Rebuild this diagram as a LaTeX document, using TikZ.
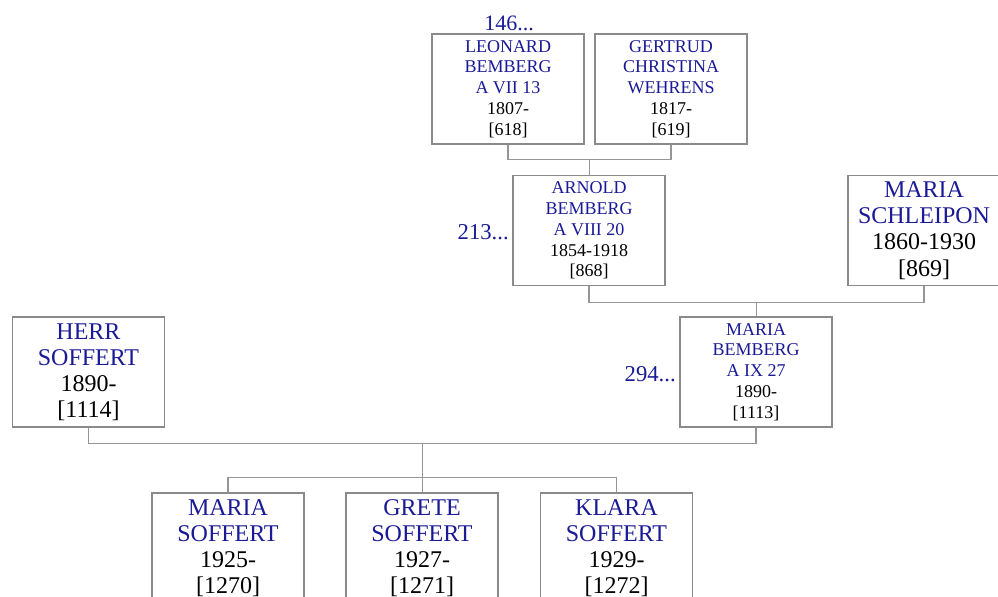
\documentclass[tikz,border=0pt]{standalone}
\usepackage{fontspec}
\setmainfont{Liberation Serif}
\usetikzlibrary{calc}
\definecolor{nameblue}{HTML}{1A1A96}
\definecolor{boxgray}{HTML}{8A8A8A}
\tikzset{
  person/.style={draw=boxgray, line width=0.9pt, rectangle, inner sep=0pt,
    minimum width=114pt, minimum height=82.5pt, align=center, fill=white},
  small/.style={person, font=\fontsize{13.5}{15.6}\selectfont},
  big/.style={person, font=\fontsize{18}{19.6}\selectfont},
  link/.style={draw=boxgray!90, line width=0.9pt},
  ref/.style={text=nameblue, inner sep=0pt}
}
\newcommand{\nm}[1]{\textcolor{nameblue}{#1}}
\begin{document}
\begin{tikzpicture}[x=0.75pt,y=-0.75pt]
\useasboundingbox (0,0) rectangle (998,596);
\clip (0,0) rectangle (998,596);
% generation 1
\node[small] (L) at (508,89) {\nm{LEONARD}\\\nm{BEMBERG}\\\nm{A VII 13}\\1807-\\{}[618]};
\node[small] (G) at (671,89) {\nm{GERTRUD}\\\nm{CHRISTINA}\\\nm{WEHRENS}\\1817-\\{}[619]};
\node[ref, font=\fontsize{16.5}{18}\selectfont, anchor=south] (r146) at (509,31) {146...};
% generation 2
\node[small] (A) at (589,230.5) {\nm{ARNOLD}\\\nm{BEMBERG}\\\nm{A VIII 20}\\1854-1918\\{}[868]};
\node[big] (S) at (924,230.5) {\nm{MARIA}\\\nm{SCHLEIPON}\\1860-1930\\{}[869]};
\node[ref, font=\fontsize{17}{18}\selectfont, anchor=east] (r213) at (509,232) {213...};
% generation 3
\node[small] (B) at (756,372) {\nm{MARIA}\\\nm{BEMBERG}\\\nm{A IX 27}\\1890-\\{}[1113]};
\node[big] (H) at (88.5,372) {\nm{HERR}\\\nm{SOFFERT}\\1890-\\{}[1114]};
\node[ref, font=\fontsize{17}{18}\selectfont, anchor=east] (r294) at (676,374) {294...};
% generation 4
\node[big] (C1) at (228,548) {\nm{MARIA}\\\nm{SOFFERT}\\1925-\\{}[1270]};
\node[big] (C2) at (422,548) {\nm{GRETE}\\\nm{SOFFERT}\\1927-\\{}[1271]};
\node[big] (C3) at (616.5,548) {\nm{KLARA}\\\nm{SOFFERT}\\1929-\\{}[1272]};
% connectors
\draw[link] (L.south) -- ++(0,15) coordinate (j1) -| (G.south);
\coordinate (m1) at ($(L.south)!0.5!(G.south)+(0,15)$);
\draw[link] (m1) -- (m1 |- A.north);
\draw[link] (A.south) -- ++(0,16) coordinate (j2) -| (S.south);
\coordinate (m2) at ($(A.south)!0.5!(S.south)+(0,16)$);
\draw[link] (m2) -- (m2 |- B.north);
\draw[link] (H.south) -- ++(0,16) coordinate (j3) -| (B.south);
\coordinate (m3) at ($(H.south)!0.5!(B.south)+(0,16)$);
\draw[link] (m3) -- ++(0,34) coordinate (c);
\draw[link] (C1.north) |- (c) -| (C3.north);
\draw[link] (c) -- (c |- C2.north);
\end{tikzpicture}
\end{document}
